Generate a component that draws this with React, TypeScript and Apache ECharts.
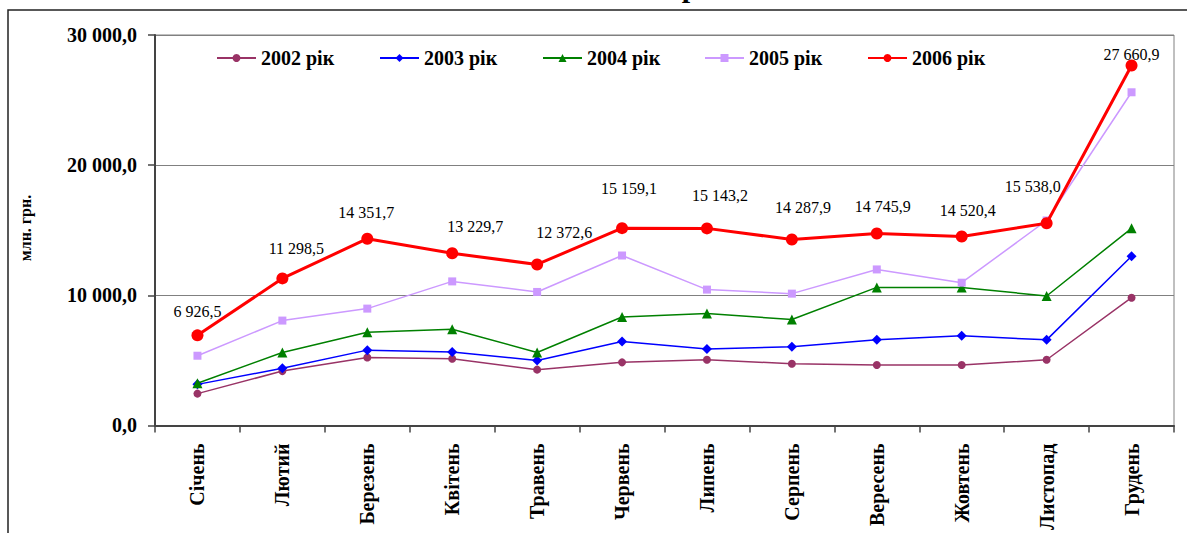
import React, { useEffect, useRef } from "react";
import * as echarts from "echarts";

const categories = ["Січень", "Лютий", "Березень", "Квітень", "Травень", "Червень", "Липень", "Серпень", "Вересень", "Жовтень", "Листопад", "Грудень"];
const seriesNames = ["2002 рік", "2003 рік", "2004 рік", "2005 рік", "2006 рік"];
const s2002 = [2450, 4180, 5230, 5130, 4290, 4850, 5050, 4750, 4650, 4650, 5050, 9820];
const s2003 = [3160, 4390, 5790, 5640, 5000, 6450, 5870, 6050, 6580, 6890, 6580, 13000];
const s2004 = [3240, 5610, 7170, 7400, 5610, 8340, 8600, 8140, 10610, 10610, 9950, 15150];
const s2005 = [5360, 8060, 8980, 11070, 10260, 13060, 10440, 10130, 11990, 10970, 15750, 25600];
const s2006 = [6926.5, 11298.5, 14351.7, 13229.7, 12372.6, 15159.1, 15143.2, 14287.9, 14745.9, 14520.4, 15538.0, 27660.9];
const yTicks = [0, 10000, 20000, 30000];

// label placement (pixels relative to point), styling only
const labelOffsets = [[0, -24], [14, -30], [-1, -26], [23, -27], [27, -32], [7, -40], [13, -33], [11, -32], [6, -27], [6, -26], [-14, -37], [0, -11]];
const legendLefts = [216, 379, 542, 704, 867];

const FONT = "Liberation Serif";

function fmt(v: number): string {
  const s = v.toFixed(1);
  const [ip, dp] = s.split(".");
  const withSp = ip.replace(/\B(?=(\d{3})+(?!\d))/g, " ");
  return withSp + "," + dp;
}

export default function App() {
  const ref = useRef<HTMLDivElement>(null);
  useEffect(() => {
    if (!ref.current) return;
    const chart = echarts.init(ref.current, undefined, { renderer: "svg" });
    const styles = [
      { color: "#993366", symbol: "circle", size: 8, width: 1.5 },
      { color: "#0000FF", symbol: "diamond", size: 10, width: 1.5 },
      { color: "#008000", symbol: "triangle", size: 10, width: 1.5 },
      { color: "#CC99FF", symbol: "rect", size: 8, width: 1.5 },
      { color: "#FF0000", symbol: "circle", size: 12, width: 3 },
    ];
    const datas = [s2002, s2003, s2004, s2005, s2006];
    const series = datas.map((d, i) => {
      const st = styles[i];
      const base: any = {
        name: seriesNames[i],
        type: "line",
        symbol: st.symbol,
        symbolSize: st.size,
        lineStyle: { color: st.color, width: st.width },
        itemStyle: { color: st.color },
        z: 2 + i,
        data: d,
      };
      if (i === 4) {
        base.data = d.map((v, j) => ({
          value: v,
          label: { offset: labelOffsets[j] },
        }));
        base.label = {
          show: true,
          position: "inside",
          align: "center",
          verticalAlign: "middle",
          color: "#000",
          fontFamily: FONT,
          fontSize: 16,
          formatter: (p: any) => fmt(p.value),
        };
      }
      return base;
    });

    const legends = seriesNames.map((n, i) => ({
      data: [n],
      left: legendLefts[i],
      top: 48,
      padding: 0,
      itemWidth: 39,
      itemHeight: 10,
      itemGap: 0,
      selectedMode: false,
      textStyle: { fontFamily: FONT, fontSize: 20, fontWeight: "bold", color: "#000" },
    }));

    chart.setOption({
      animation: false,
      backgroundColor: "#fff",
      textStyle: { fontFamily: FONT },
      legend: legends,
      grid: {
        left: 155,
        top: 35,
        right: 13,
        height: 392,
        show: true,
        borderColor: "#808080",
        borderWidth: 1,
      },
      xAxis: {
        type: "category",
        data: categories,
        boundaryGap: true,
        axisLine: { lineStyle: { color: "#444", width: 2 } },
        axisTick: { show: true, length: 7, lineStyle: { color: "#444", width: 1.5 } },
        axisLabel: {
          interval: 0,
          rotate: 90,
          margin: 18,
          fontFamily: FONT,
          fontSize: 20,
          fontWeight: "bold",
          color: "#000",
        },
      },
      yAxis: {
        type: "value",
        min: yTicks[0],
        max: yTicks[yTicks.length - 1],
        interval: 10000,
        axisLine: { show: true, lineStyle: { color: "#444", width: 2 } },
        axisTick: { show: true, length: 7, lineStyle: { color: "#444", width: 1.5 } },
        splitLine: { show: true, lineStyle: { color: "#808080", width: 1 } },
        axisLabel: {
          margin: 18,
          fontFamily: FONT,
          fontSize: 20,
          fontWeight: "bold",
          color: "#000",
          formatter: (v: number) => fmt(v),
        },
      },
      graphic: [
        {
          type: "rect",
          shape: { x: 8, y: 10, width: 1200, height: 600 },
          style: { fill: "none", stroke: "#222", lineWidth: 1.5 },
          silent: true,
          z: 0,
        },
        {
          type: "text",
          x: 690,
          y: -14,
          style: {
            text: "р",
            fontFamily: FONT,
            fontSize: 30,
            fontWeight: "bold",
            fill: "#000",
            align: "center",
            verticalAlign: "middle",
          },
        },
        {
          type: "text",
          x: 25,
          y: 228,
          rotation: Math.PI / 2,
          style: {
            text: "млн. грн.",
            fontFamily: FONT,
            fontSize: 16,
            fontWeight: "bold",
            fill: "#000",
            align: "center",
            verticalAlign: "middle",
          },
        },
      ],
      series,
    });
    return () => chart.dispose();
  }, []);
  return (
    <div
      ref={ref}
      style={{ position: "fixed", left: 0, top: 0, width: 1187, height: 533 }}
    />
  );
}
